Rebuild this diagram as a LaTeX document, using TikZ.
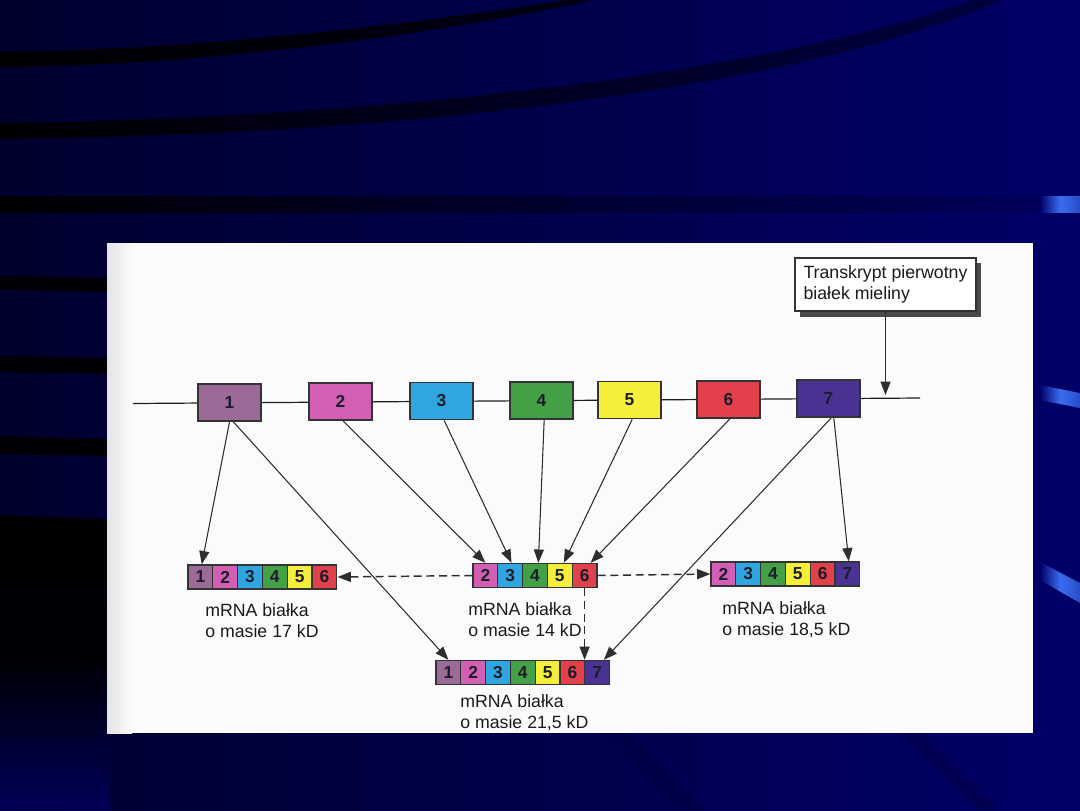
\documentclass[tikz,border=0pt]{standalone}
\usepackage{fontspec}
\setmainfont{Liberation Sans}
\usetikzlibrary{arrows.meta}
\definecolor{bgL}{HTML}{00002E}
\definecolor{bgR}{HTML}{000068}
\definecolor{panelC}{HTML}{FBFBFD}
\definecolor{c1}{HTML}{9C6A96}
\definecolor{c2}{HTML}{D35FB4}
\definecolor{c3}{HTML}{2FA6DF}
\definecolor{c4}{HTML}{43A047}
\definecolor{c5}{HTML}{F5EF3C}
\definecolor{c6}{HTML}{E2404A}
\definecolor{c7}{HTML}{4B3394}
\definecolor{edgeC}{HTML}{333333}
\definecolor{lineC}{HTML}{1E1E1E}
\definecolor{arrC}{HTML}{2E2E2E}
\definecolor{numC}{HTML}{1C1C2A}
\definecolor{txtC}{HTML}{1A1A1A}
\definecolor{shadowC}{HTML}{4A4A4A}
\definecolor{hiC}{HTML}{3A6CF0}
\tikzset{
  ln/.style={draw=lineC, line width=0.9pt},
  arr/.style={draw=arrC, line width=0.8pt, -{Triangle[length=10pt,width=7.5pt]}},
  darr/.style={arr, line width=1.1pt, dash pattern=on 6pt off 3.5pt},
  exon/.style={draw=edgeC, line width=1.2pt, minimum width=47pt, minimum height=28pt,
    inner sep=0pt, font=\fontsize{13}{15}\selectfont\bfseries, text=numC},
  cell/.style={draw=edgeC, line width=1pt, minimum width=18.6pt, minimum height=18pt,
    inner sep=0pt, font=\fontsize{13}{15}\selectfont\bfseries, text=numC},
  lbl/.style={anchor=base west, align=left, inner sep=0pt,
    font=\fontsize{13.3}{15.75}\selectfont, text=txtC},
  tbox/.style={draw=edgeC, line width=1pt, fill=white, minimum width=135.75pt,
    minimum height=39.75pt, align=left, inner sep=0pt,
    font=\fontsize{13.3}{15.75}\selectfont, text=txtC}
}
\begin{document}
\begin{tikzpicture}[x=0.75pt,y=-0.75pt]
\useasboundingbox (0,0) rectangle (1080,810);
% slide background
\shade[left color=bgL, right color=bgR] (0,0) rectangle (1080,810);
\shade[left color=black!95!bgL, right color=black!80!bgR]
  (0,52) .. controls (200,50) and (430,22) .. (570,-1) -- (600,-1)
  .. controls (450,32) and (210,66) .. (0,67) -- cycle;
\shade[left color=black!95!bgL, right color=black!40!bgR]
  (0,123) .. controls (400,118) and (780,70) .. (975,-1) -- (1005,-1)
  .. controls (800,88) and (410,135) .. (0,139) -- cycle;
\shade[left color=black, right color=black!15!bgR] (0,196) rectangle (1040,212);
\shade[left color=bgR, right color=hiC!70!bgR, middle color=hiC] (1040,196) rectangle (1080,212);
\shade[left color=bgR, right color=hiC!70!bgR, middle color=hiC]
  (1040,385) -- (1080,393) -- (1080,408) -- (1040,400) -- cycle;
\shade[left color=bgR, right color=hiC!70!bgR, middle color=hiC]
  (1040,562) -- (1080,583) -- (1080,603) -- (1040,580) -- cycle;
% left bands (behind the panel)
\fill[black!92!bgL] (0,276) -- (110,278) -- (110,292) -- (0,290) -- cycle;
\fill[black!92!bgL] (0,356) -- (110,358) -- (110,374) -- (0,372) -- cycle;
\fill[black!92!bgL] (0,436) -- (110,439) -- (110,456) -- (0,454) -- cycle;
\shade[top color=black, bottom color=bgR!85!black, middle color=black!85!bgL]
  (0,515) -- (110,519) -- (110,810) -- (0,810) -- cycle;
% bottom diagonal stripes
\fill[black!30!bgR] (604,733) -- (628,733) -- (706,810) -- (680,810) -- cycle;
\fill[black!20!bgR] (900,733) -- (922,733) -- (1000,810) -- (976,810) -- cycle;
% panel
\fill[panelC] (107,243) rectangle (1033,733);
\shade[left color=black!9!panelC, right color=panelC] (107,243) rectangle (132,733);
% primary transcript line
\coordinate (L) at (133,403.5);
\coordinate (R) at (920,398);
\draw[ln] (L) -- (R);
% exons
\foreach \i/\x/\y in {1/229.5/402.5, 2/340.5/401.5, 3/441.5/401, 4/541.5/400.5,
  5/629.5/400, 6/728.5/399.5, 7/828.5/398.5}
  \node[exon, fill=c\i] (e\i) at (\x,\y) {\i};
% transcript box
\fill[shadowC] (800,263) rectangle (981,317);
\node[tbox] (tb) at (885.5,284.5) {Transkrypt pierwotny\\białek mieliny};
\coordinate (tend) at (885,395);
\draw[arr] (tb.south) -- (tb.south |- tend);
% mRNA strips
\foreach \i in {1,...,6}
  \node[cell, fill=c\i] (a\i) at ({188+12.4+24.8*(\i-1)},577) {\i};
\foreach \i in {2,...,6}
  \node[cell, fill=c\i] (b\i) at ({473+12.4+24.8*(\i-2)},575.5) {\i};
\foreach \i in {2,...,7}
  \node[cell, fill=c\i] (c\i) at ({711+12.4+24.8*(\i-2)},574) {\i};
\foreach \i in {1,...,7}
  \node[cell, fill=c\i] (d\i) at ({436+12.4+24.8*(\i-1)},672.5) {\i};
% labels (anchored at the baseline of their last line)
\node[lbl] (la) at (205,637) {mRNA białka\\o masie 17 kD};
\node[lbl] (lb) at (468,636) {mRNA białka\\o masie 14 kD};
\node[lbl] (lc) at (722,635) {mRNA białka\\o masie 18,5 kD};
\node[lbl] (ld) at (460,728) {mRNA białka\\o masie 21,5 kD};
% splicing arrows
\draw[arr] (e1.south) -- ([xshift=1pt]a1.north);
\draw[arr] ([xshift=3pt]e1.south) -- (d1.north);
\draw[arr] ([xshift=2pt]e2.south) -- (b2.north);
\draw[arr] ([xshift=2pt]e3.south) -- ([xshift=1pt]b3.north);
\draw[arr] ([xshift=2pt]e4.south) -- ([xshift=2.5pt]b4.north);
\draw[arr] ([xshift=2pt]e5.south) -- ([xshift=3pt]b5.north);
\draw[arr] ([xshift=1pt]e6.south) -- ([xshift=4.5pt]b6.north);
\draw[arr] ([xshift=2pt]e7.south) -- ([xshift=5pt]d7.north);
\draw[arr] ([xshift=4pt]e7.south) -- ([xshift=1pt]c7.north);
% dashed relations
\draw[darr] (b2.west) -- (a6.east);
\draw[darr] (b6.east) -- (c2.west);
\draw[darr] (b6.south) -- (b6.south |- d6.north);
\end{tikzpicture}
\end{document}
